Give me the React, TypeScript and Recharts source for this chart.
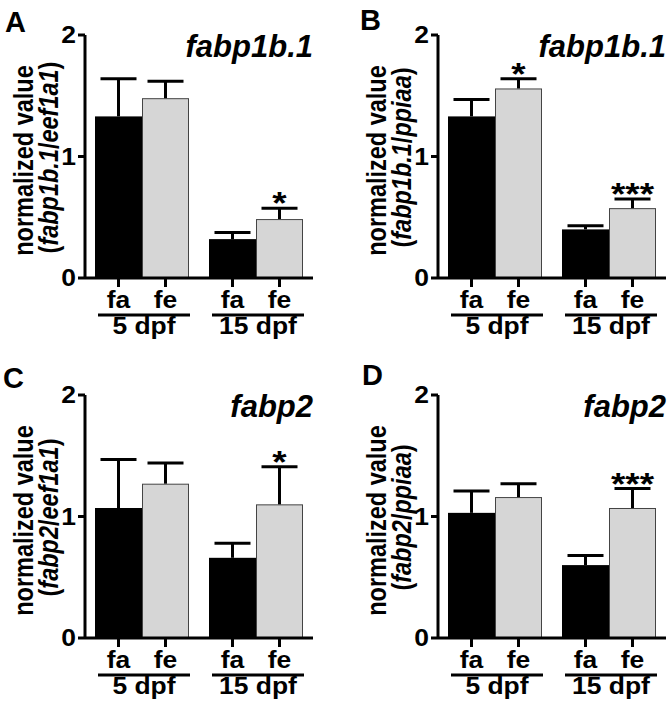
import React from "react";
import { BarChart, Bar, XAxis, YAxis } from "recharts";

const FONT = '"Liberation Sans", Arial, Helvetica, sans-serif';
const SX = 1.15; // glyphs in the figure are a bit wider than plain Arial
const SX_Y = 1.2;
const BAR = 47;
const W = 317;
const H = 350;

const groups = ["5 dpf", "15 dpf"];
const seriesNames = ["fa", "fe"];
const yTicks = [0, 1, 2];

// A: fabp1b.1 / eef1a1
const aFa = [1.33, 0.32];
const aFaSem = [0.31, 0.055];
const aFe = [1.48, 0.485];
const aFeSem = [0.14, 0.09];
const aStars = ["", "*"];

// B: fabp1b.1 / ppiaa
const bFa = [1.33, 0.4];
const bFaSem = [0.14, 0.03];
const bFe = [1.56, 0.575];
const bFeSem = [0.08, 0.075];
const bStars = ["*", "***"];

// C: fabp2 / eef1a1
const cFa = [1.07, 0.66];
const cFaSem = [0.4, 0.12];
const cFe = [1.27, 1.1];
const cFeSem = [0.17, 0.31];
const cStars = ["", "*"];

// D: fabp2 / ppiaa
const dFa = [1.03, 0.6];
const dFaSem = [0.18, 0.08];
const dFe = [1.16, 1.07];
const dFeSem = [0.11, 0.16];
const dStars = ["", "***"];

function buildData(fa: number[], faSem: number[], fe: number[], feSem: number[], stars: string[]) {
  return groups.map((g, i) => ({
    group: g,
    fa: fa[i],
    faSem: faSem[i],
    fe: fe[i],
    feSem: feSem[i],
    feStar: stars[i],
  }));
}

const makeShape = (key: string, semKey: string, starKey: string | null, fill: string, stroke: string) =>
  (props: any) => {
    const { x, y, width, height, payload } = props;
    const v = payload[key];
    const perUnit = v ? height / v : 0;
    const capY = y - payload[semKey] * perUnit;
    const cx = x + width / 2;
    const star = starKey ? payload[starKey] : "";
    return (
      <g>
        {stroke === "none" ? (
          <rect x={x} y={y} width={width} height={height} fill={fill} />
        ) : (
          <rect x={x + 0.5} y={y + 0.5} width={width - 1} height={height} fill={fill} stroke={stroke} strokeWidth={1} />
        )}
        <line x1={cx} x2={cx} y1={y} y2={capY} stroke="#000" strokeWidth={3} />
        <line x1={cx - 18} x2={cx + 18} y1={capY} y2={capY} stroke="#000" strokeWidth={3} />
        {star ? (
          <text
            transform={`translate(${cx},${capY + 6}) scale(${SX},1)`}
            textAnchor="middle"
            fontFamily={FONT}
            fontWeight="bold"
            fontSize={32}
            fill="#000"
          >
            {star}
          </text>
        ) : null}
      </g>
    );
  };

const GroupTick = (props: any) => {
  const { x, y, payload } = props;
  const off = BAR / 2;
  return (
    <g>
      {seriesNames.map((n, i) => {
        const tx = x + (i === 0 ? -off : off);
        return (
          <g key={n}>
            <line x1={tx} x2={tx} y1={y} y2={y + 9} stroke="#000" strokeWidth={3} />
            <text
              transform={`translate(${tx},${y + 30}) scale(${SX},1)`}
              textAnchor="middle"
              fontFamily={FONT}
              fontWeight="bold"
              fontSize={23}
              fill="#000"
            >
              {n}
            </text>
          </g>
        );
      })}
      <line x1={x - 44} x2={x + 48} y1={y + 37} y2={y + 37} stroke="#000" strokeWidth={3} />
      <text
        transform={`translate(${x + 2},${y + 56}) scale(${SX},1)`}
        textAnchor="middle"
        fontFamily={FONT}
        fontWeight="bold"
        fontSize={23}
        fill="#000"
      >
        {payload.value}
      </text>
    </g>
  );
};

const ValueTick = (props: any) => {
  const { x, y, payload } = props;
  return (
    <text
      transform={`translate(${x},${y}) scale(${SX},1)`}
      dy="0.36em"
      textAnchor="end"
      fontFamily={FONT}
      fontWeight="bold"
      fontSize={23}
      fill="#000"
    >
      {payload.value}
    </text>
  );
};

const yLabel = (gene: string, ref: string) => (props: any) => {
  const vb = props.viewBox || { y: 35, height: 243 };
  const cy = vb.y + vb.height / 2 + 4;
  const common = {
    textAnchor: "middle" as const,
    fontFamily: FONT,
    fontWeight: "bold",
    fontSize: 23.5,
    fill: "#000",
  };
  return (
    <g>
      <text transform={`translate(33,${cy}) scale(${SX_Y},1) rotate(-90)`} {...common}>
        normalized value
      </text>
      <text transform={`translate(58,${cy - 3}) scale(${SX_Y},1) rotate(-90)`} {...common}>
        (<tspan fontStyle="italic">{gene}</tspan>/<tspan fontStyle="italic">{ref}</tspan>)
      </text>
    </g>
  );
};

function Panel({ left, top, letter, letterX, letterY, gene, refGene, data }: any) {
  return (
    <div style={{ position: "absolute", left, top, width: W, height: H }}>
      <BarChart
        width={W}
        height={H}
        data={data}
        margin={{ top: 35, right: 4, bottom: 0, left: 0 }}
        barSize={BAR}
        barGap={0}
      >
        <XAxis
          dataKey="group"
          height={72}
          interval={0}
          tickLine={false}
          tickSize={0}
          tickMargin={0}
          axisLine={{ stroke: "#000", strokeWidth: 3 }}
          tick={(p: any) => <GroupTick {...p} />}
        />
        <YAxis
          width={85}
          domain={[0, 2]}
          ticks={yTicks}
          interval={0}
          tickSize={7}
          tickMargin={2}
          axisLine={{ stroke: "#000", strokeWidth: 3 }}
          tickLine={{ stroke: "#000", strokeWidth: 3 }}
          tick={(p: any) => <ValueTick {...p} />}
          label={yLabel(gene, refGene)}
        />
        <Bar
          dataKey="fa"
          fill="#000"
          isAnimationActive={false}
          shape={makeShape("fa", "faSem", null, "#000", "none")}
        />
        <Bar
          dataKey="fe"
          fill="#d6d6d6"
          isAnimationActive={false}
          shape={makeShape("fe", "feSem", "feStar", "#d6d6d6", "#444")}
        />
      </BarChart>
      <svg
        width={W}
        height={H}
        style={{ position: "absolute", left: 0, top: 0, pointerEvents: "none" }}
      >
        <text x={letterX} y={letterY} fontFamily={FONT} fontWeight="bold" fontSize={29} fill="#000">
          {letter}
        </text>
        <text
          x={313}
          y={57}
          textAnchor="end"
          fontFamily={FONT}
          fontWeight="bold"
          fontStyle="italic"
          fontSize={31}
          fill="#000"
        >
          {gene}
        </text>
      </svg>
    </div>
  );
}

export default function App() {
  return (
    <div style={{ position: "absolute", left: 0, top: 0, width: 670, height: 710, background: "#fff" }}>
      <Panel left={0} top={0} letter="A" letterX={5} letterY={32} gene="fabp1b.1" refGene="eef1a1"
        data={buildData(aFa, aFaSem, aFe, aFeSem, aStars)} />
      <Panel left={353} top={0} letter="B" letterX={7} letterY={30} gene="fabp1b.1" refGene="ppiaa"
        data={buildData(bFa, bFaSem, bFe, bFeSem, bStars)} />
      <Panel left={0} top={360} letter="C" letterX={3} letterY={28} gene="fabp2" refGene="eef1a1"
        data={buildData(cFa, cFaSem, cFe, cFeSem, cStars)} />
      <Panel left={353} top={360} letter="D" letterX={9} letterY={25} gene="fabp2" refGene="ppiaa"
        data={buildData(dFa, dFaSem, dFe, dFeSem, dStars)} />
    </div>
  );
}
